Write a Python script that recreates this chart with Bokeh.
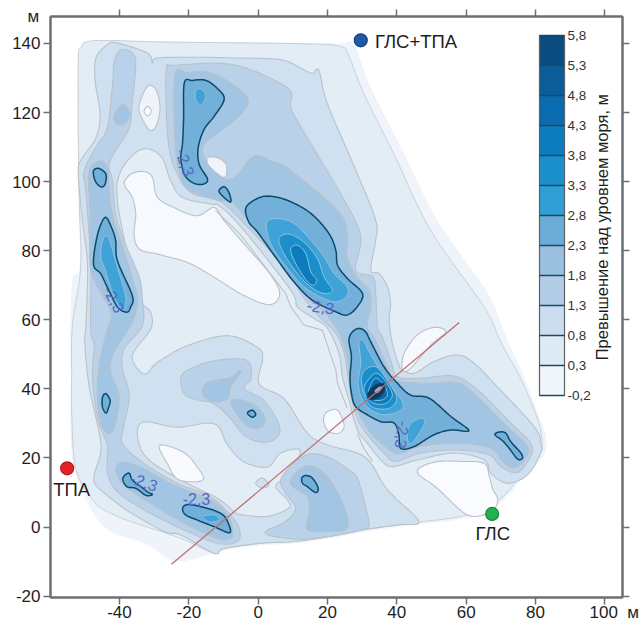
from bokeh.plotting import figure
from bokeh.models import (Range1d, LinearAxis, FixedTicker, ColorBar, LinearColorMapper, Label)
from bokeh.embed import file_html
from bokeh.resources import INLINE
import numpy as np

# ---------- axes ----------
x_ticks = [-40, -20, 0, 20, 40, 60, 80, 100]
y_ticks = [-20, 0, 20, 40, 60, 80, 100, 120, 140]
unit = "м"

# ---------- colour scale ----------
levels = [-0.2, 0.3, 0.8, 1.3, 1.8, 2.3, 2.8, 3.3, 3.8, 4.3, 4.8, 5.3, 5.8]
level_labels = ["-0,2", "0,3", "0,8", "1,3", "1,8", "2,3", "2,8", "3,3", "3,8", "4,3", "4,8", "5,3", "5,8"]
palette = ["#F1F6FB", "#DEEAF5", "#CBDDEF", "#B4CDE7", "#9AC0DF", "#6CADD7",
           "#2F9FD3", "#1A8FCB", "#0C7CBF", "#0A6BAE", "#0A5C9B", "#0A4B80"]

# ---------- contour outlines (x m, y m) ----------
domain = [(-51.9,135.3),(-51.2,138.7),(-47.3,140.8),(-26.2,140.6),(13.3,140.1),(23.8,139.9),(27.6,139.7),(32.5,127.2),(41.2,110),(51.7,88.8),(66.2,67.7),(71.5,55),(76.5,44),(81,32),(83,26.5),(82.5,21),(76.5,14.5),(70,7),(62,3),(46.9,0.8),(40.2,0),(29.6,-1.6),(20,-3.4),(10.4,-4.8),(0.8,-5.3),(-9.8,-6.8),(-19.4,-9.5),(-25.2,-9.5),(-32.9,-4.7),(-42.5,-1.3),(-48.3,5.4),(-53.6,19.8),(-54,43),(-54.2,58),(-53.5,72),(-51.5,75),(-51.8,94),(-52,114)]
band_03 = [(-51.9,135.3),(-51.2,138.7),(-47.3,140.8),(-26.2,140.4),(13.3,139.9),(23.8,139.1),(26.2,136.3),(30.6,125.2),(39.2,107.9),(49.8,85.8),(65.2,63.7),(70,53.5),(75.8,42.9),(80.6,31.3),(81.7,26.5),(81.5,21.3),(75.8,15),(70,8.3),(60.4,3.5),(46.9,1.5),(40.2,0.6),(29.6,-0.9),(20,-2.8),(10.4,-4.2),(0.8,-4.7),(-9.8,-6.2),(-12.7,-7.6),(-22.3,-3.3),(-33.8,0.6),(-41.5,3.5),(-47.3,7.3),(-52.6,16.9),(-53.8,33.3),(-53.8,43.4),(-53.6,58.3),(-51.2,75.2),(-51.6,94.4),(-51.9,113.7)]
low_big = [(-38.5,100.2),(-36.3,102.4),(-32.9,102.9),(-30.5,101.2),(-29,95.4),(-23.3,92),(-17.5,90.1),(-12.7,92.5),(-9.8,88.7),(-4,81.9),(2.7,74.2),(6.1,68.5),(5.1,65.1),(1.7,64.6),(-5,67.5),(-12.7,72.3),(-20.4,76.6),(-29,79),(-34.3,80.5),(-35.8,84.8),(-35.3,90.6),(-36.3,95.4),(-38.2,98.3)]
band_08 = [(-30.5,134.3),(-29,135.8),(-16.5,136),(-6.9,135.8),(2.7,135.6),(8.5,134.8),(15.2,131.4),(17.5,132.2),(20,122.5),(28.6,102.3),(33.9,88.8),(33.9,83),(32.5,74.4),(34.9,73.4),(37.3,69.5),(38.2,64.7),(37.8,59.9),(38.7,53.2),(40.6,46.9),(41.6,45.5),(45,44.5),(50.7,47.9),(57.5,49.8),(62.3,47.4),(69,40.6),(79.6,29.1),(81.5,24.3),(81.5,21.4),(77.7,15.1),(71.9,12.7),(67.1,15.6),(65.2,19.4),(56.5,21.4),(45.9,19.4),(38.7,17.5),(35.4,19.4),(31.5,24.3),(28.6,28.1),(26.2,36.8),(24.3,43.5),(23.3,50.3),(20,57.5),(16.1,60.4),(11.3,63.8),(9.4,68.6),(-4.1,85.9),(-10.8,92.7),(-13.7,93.5),(-21.8,95.4),(-25.2,100.2),(-28.1,107.4),(-33.8,109.3),(-39.6,103.1),(-40.6,94.4),(-37.2,77.1),(-33.8,65.6),(-31,62.1),(-31,57.3),(-36.3,49.6),(-32.9,44.3),(-29,47.7),(-20.4,52.5),(-8.8,55.4),(-0.2,52),(1.3,48.7),(0.3,41.4),(7.5,37.1),(14.2,27.2),(20,23.8),(28.6,21.4),(32.5,18.5),(36.3,12.1),(39.7,8.3),(46.4,1.5),(40.2,0.6),(29.6,-0.9),(20,-2.8),(10.4,-4.2),(0.8,-4.7),(-9.8,-6.2),(-12.7,-7.6),(-22.3,-2.3),(-27.1,-1.3),(-37.2,4.4),(-42.5,8.3),(-46.8,12.1),(-47.3,15),(-45.4,21.7),(-45.9,27.5),(-48.8,41),(-50,53.5),(-49.7,58.3),(-49.2,75.2),(-50.2,84.8),(-51.3,94.4),(-51.9,103.6),(-50.7,106.9),(-46.8,112.7),(-45.6,119.4),(-47,129),(-46.8,135.8),(-43.5,139.6),(-40.6,140.1),(-31.9,137.2)]
hole_mid = [(-34.8,26.5),(-32.9,30.4),(-23.3,28.9),(-12.7,29.9),(-8.8,23.7),(-4,18.8),(2.7,17.4),(6.5,21.4),(11.8,22.5),(11.3,19.5),(7.9,14.6),(5.1,11.7),(8.4,7.9),(8.9,5.5),(2.7,3.1),(-5,3.6),(-6.9,4.4),(-11.7,8.3),(-21.3,13.1),(-31.9,19.8)]
low_mid = [(-28.6,23.2),(-26.2,23.5),(-21,21.3),(-17.6,17.4),(-15.7,14),(-18.6,13.1),(-23.4,14),(-26.2,18.4)]
diamond = [(-0.7,12.7),(1.2,14.2),(3.1,12.2),(1.2,11.3)]
low_center = [(19,32),(20,33.4),(22.4,34.1),(23.8,32.5),(24.8,29.1),(23.3,27.2),(20.4,27.6),(19,30.1)]
low_right = [(41.6,45.5),(42.1,50.3),(45.9,55.6),(50.7,57.8),(54.1,56.5),(49.8,52.7),(44,46)]
low_south = [(45.9,16),(50.8,18.8),(58.5,19),(65.2,18.4),(66.6,15),(67.6,11.2),(69.1,7.8),(67.1,4.4),(60.4,3.5),(51.7,11.2)]
low_top_a = [(-14.6,106.9),(-11.7,106.9),(-9.3,105),(-9.3,101.6),(-10.8,101.6),(-14.1,104.5)]
low_top_b = [(-34.3,122.3),(-31.9,127.6),(-29.5,126.6),(-28.3,121.3),(-29.5,116),(-31.4,115),(-33.8,119)]
low_top_c = [(-32.9,120.4),(-31.9,121.8),(-30.8,120.4),(-31.9,119)]
strand = [(-12.3,91.7),(-5,84.5),(7.9,67.6),(9.4,63.8),(13.2,58.5),(18.5,57),(22.4,45.5),(22.9,41.6),(25.7,34.4)]
strand_low = [(28.6,27),(30.5,22.8),(33,19)]

band_13_left = [(-41.5,134.8),(-39.6,138.2),(-36.3,137.2),(-35.3,133.8),(-36.3,123.3),(-37.2,115.6),(-40.6,109.8),(-43,105),(-42,100.2),(-41.1,90.6),(-38.7,82.9),(-34.3,72.3),(-33.4,65.6),(-33.4,58.3),(-38.7,51.5),(-39.1,45.8),(-37.2,38.1),(-38.7,29.4),(-39.1,24.1),(-32.9,18.4),(-23.3,12.6),(-14.6,9.2),(-8.8,4.4),(-5.5,-0.4),(-6,-4.2),(-11.7,-4.7),(-20.4,-1.3),(-31.9,4.4),(-40.6,10.2),(-43.5,16),(-43.5,23.7),(-46.3,31.3),(-47.8,43.8),(-47.3,52.5),(-48.3,57.3),(-48.3,76.2),(-49.7,97.3),(-50.2,103.1),(-46.3,110.8),(-43.5,115.6),(-42,128.1)]
band_13_main = [(9.4,121.6),(12.3,115.8),(24.8,94.7),(29.6,84),(28.1,74.4),(33,72.5),(33.9,67.6),(34.4,58),(35.8,55.1),(38.2,48.4),(40.2,43.5),(46.9,43.1),(56.5,43.7),(63.3,39.7),(72.9,30.1),(78.6,24.3),(78.6,20.4),(74.8,15.8),(70,17.5),(66.6,20.9),(57.5,22.3),(46.9,21.4),(39.7,19),(36.3,21.4),(30.5,28.1),(27.6,34.4),(26.2,41.6),(24.8,50.3),(22.4,56.1),(17.1,61.4),(12.3,67.6),(8.4,74.4),(-3.1,86.9),(-9.4,93.2),(-12.7,94.9),(-19.4,96.8),(-23.3,102.1),(-25.7,109.8),(-26.6,123.3),(-26.4,132.9),(-24.2,133.7),(-6.9,133.8),(8.5,127.1)]
band_13_center = [(-22.3,41.9),(-21.3,44.8),(-14.6,47.7),(-6.9,48.7),(-2.6,47.7),(-2.1,42.9),(-4,40),(1.7,36.6),(6.1,29.4),(5.1,25.6),(0.8,24.6),(-4,26.5),(-7.9,31.3),(-12.7,35.7),(-16.5,36.6),(-20.9,38.1)]
band_13_south = [(2,-1.7),(7.9,1.6),(10.8,5.5),(7.9,9.8),(6.5,13.7),(10.3,18.5),(15.2,21.2),(20.9,19.9),(26.7,16.1),(28.7,14),(30.6,7.3),(32,0.6),(29.6,-0.9),(20,-2.8),(10.4,-3.5)]

band_18_ridge = [(-41.1,16.9),(-38.7,18.8),(-32.9,16.9),(-24.2,12.1),(-13.7,7.8),(-8.8,3.5),(-7.4,-0.4),(-7.9,-3.3),(-11.7,-3.3),(-20.4,0.6),(-31,6.8),(-38.7,12.1)]
band_18_left = [(-48.8,102.6),(-45.9,106),(-43.3,104),(-43,98.3),(-42,90.6),(-39.6,82.9),(-36.3,72.3),(-34.8,65.6),(-36.3,59.2),(-41.5,50.6),(-42.5,44.8),(-40.1,38.1),(-41.1,29.9),(-43,27),(-45.4,29.9),(-46.3,36.2),(-46.3,42.9),(-45.2,50.6),(-43.5,57.3),(-42.5,62.2),(-46.8,70.4),(-48.5,76.2),(-48.5,90.6)]
band_18_spot = [(-41.5,119.4),(-39.1,122.3),(-36.9,119.4),(-38.7,116.7),(-41.1,117)]
band_18_main = [(9.4,103.3),(22.9,91.7),(25.7,85),(25.7,78.2),(28.6,72.4),(32,68.6),(32.5,63.8),(31.5,58),(33.9,54.1),(37.3,46.4),(39.7,42.6),(48.8,41.6),(57.5,41.8),(63.3,37.7),(71.9,29.1),(77.7,23.3),(77.2,19.9),(73.8,17.1),(70.5,19),(67.1,22.8),(57.5,24.3),(46.9,23.3),(41.1,21.4),(38.7,21.8),(32.5,27.2),(28.6,33.9),(26.7,41.6),(25.3,50.3),(22.9,57),(18.5,62.8),(14.2,66.6),(9.4,75.3),(-2.2,87.9),(-7.9,94.6),(-10.8,94.4),(-19.4,97.3),(-22.3,101.2),(-24,110.8),(-24,131),(-20.4,131.6),(-14.6,131.7),(-7.9,128.6),(-2.9,123.8),(-5,119.4),(-10.8,114.6),(-15.6,110.8),(-15.4,106.9),(-10.8,101.6),(-6.9,101.2),(-1.2,107.4),(3.7,106),(6.5,105)]
band_18_center_a = [(-16,40),(-14.1,42),(-7.9,43.4),(-5.5,45.3),(-5,44.8),(-7.9,40.5),(-8.8,37.1),(-12.7,36.2),(-15.6,37.7)]
band_18_center_b = [(-7.9,36.2),(-5,36.9),(-0.2,34.7),(2,31.3),(0.8,28.9),(-2.6,28.9),(-5.9,32.3)]
band_18_south = [(9.4,13.7),(11.8,16.6),(15.2,17.7),(20,14.6),(24.8,6),(25.7,-0.3),(20,-1.3),(14.2,-0.8),(14.7,4),(14.2,8.8),(9.9,11.7)]

peak_top = [(-21.3,128.6),(-18.9,129.3),(-15.1,129.3),(-11.7,126.9),(-9.8,123.8),(-12.7,118.9),(-15.6,115.1),(-17.3,109.8),(-17,105),(-14.6,100.7),(-16.1,99.2),(-18.9,99.7),(-21.3,102.1),(-22.3,106.9),(-21.8,111.3),(-21.5,118.5)]
peak_a = [(-47.5,103.1),(-45.9,103.8),(-43.9,102.1),(-44.2,99.2),(-45.4,98.5),(-47,100.2)]
peak_left = [(-44.2,89.6),(-42.5,87.2),(-41.1,82.9),(-40.6,77.1),(-36.3,67),(-36.8,63.7),(-37.9,62.2),(-40.6,63.7),(-43.5,69.4),(-45.4,73.3),(-47.5,76.2),(-46.3,84.8)]
peak_b = [(-43.9,38.6),(-42.7,36.6),(-43.3,34.2),(-43.9,33),(-44.9,34.7),(-44.9,37.6)]
peak_c = [(-11.3,97.3),(-9.8,98.5),(-8.4,96.8),(-7.9,94.1),(-9.8,95.4)]
peak_diag = [(-3.6,92.2),(-1.2,94.6),(2.6,95.8),(8.4,94.6),(15.2,90.8),(20.4,85),(22.4,80.1),(22.9,75.8),(25.7,72),(30.1,67.6),(28.6,63.8),(25.7,61.4),(22.4,62.3),(15.6,65.7),(10.3,71),(4.6,78.7),(-0.2,85.4),(-2.7,88.3)]
peak_center = [(26.2,54.1),(27.2,56.5),(29.1,57.5),(31,56.5),(32.5,53.6),(36.3,46.4),(40.2,41.6),(44,38.2),(49.3,37.3),(55.6,32),(60.8,27.9),(55.6,28.1),(50.7,26.7),(45,23.3),(41.1,22.8),(40.6,26.7),(39.2,30.1),(35.4,30.5),(31.5,32.5),(28.1,34.9),(26.9,38.7),(26.5,43.5),(26.9,49.3)]
peak_right = [(68.3,26.7),(69.5,27.5),(71.4,27.2),(72.9,24.7),(75.8,21.4),(76.2,19.9),(74.8,19.7),(72.4,22.8),(70.5,25)]
peak_ridge_a = [(-38.8,14.6),(-37.2,15.6),(-36.3,13.6),(-33.8,11.7),(-31.9,10.2),(-30.5,9.4),(-32.4,9.2),(-35.3,11.2),(-37.7,11.6),(-38.9,13.2)]
peak_ridge_b = [(-21.8,5.4),(-20.4,6.5),(-16.5,5.9),(-11.7,4.4),(-9.3,2.5),(-8.1,-1.6),(-12.7,0.1),(-17.5,2),(-20.9,3.5)]
peak_mid = [(-2.9,33.3),(-1.6,33.8),(-0.7,32.6),(-1.6,31.8),(-2.9,32.6)]
peak_south = [(12.6,14.2),(13.7,14.9),(15.6,14.2),(17.3,11.3),(16.6,10),(14.2,11.7),(12.8,12.7)]

core_28_top = [(-18,126.2),(-16.5,126.9),(-15.1,124.7),(-16.5,122.3),(-18,123.8)]
core_28_left = [(-44.9,82.9),(-43.5,84.3),(-42.5,81.9),(-40.6,75.2),(-38.2,66.5),(-39.1,63.2),(-41.5,66.5),(-44.4,75.2),(-45.4,78.1)]
core_28_ridge = [(-16,3),(-12.7,3.5),(-11.2,2),(-14.1,1.5)]
core_28_diag = [(2.4,87.9),(5.5,89.3),(10.3,87.9),(15.2,83),(19,78.2),(21.9,73.4),(25.7,69.5),(25.3,66.6),(21.9,65.2),(16.1,67.6),(12.3,70.5),(7.4,76.3),(3.6,82.1)]
core_33_diag = [(6,83.5),(8.9,84.8),(13.2,82.5),(17.1,77.7),(19,72.4),(21.4,68.6),(19,67.6),(15.2,69.5),(11.3,73.4),(7.4,79.2)]
core_38_diag = [(9.4,80.6),(11.3,81.6),(13.7,79.2),(15.2,73.9),(16.9,71.5),(15.6,70),(13.2,72.4),(10.3,77.3)]
core_28_center = [(29.1,53.2),(30.4,53.9),(32,50.8),(36.3,43.5),(39.7,39.2),(41.9,35.3),(40.3,33.4),(36.3,32.5),(32.5,33.9),(30.1,36.8),(28.8,41.6),(29.6,47.4)]
core_28_spot = [(44,30),(47,31.5),(48,30),(45,25),(43.5,24.5),(43,27)]
core_33_center = [(30.1,44.5),(33.9,46.4),(37.8,41.6),(40,37.3),(37.8,34.4),(33,34.7),(30.4,38.7)]
core_38_center = [(30.8,41.1),(33.9,44.5),(36.8,42.1),(38.7,38.2),(36.8,35.8),(33.4,35.8),(31,38.2)]
core_43_center = [(32,40.2),(33.9,43.1),(36.3,41.1),(37.3,38.2),(35.8,36.8),(33.4,36.8),(32,38.2)]
core_48_center = [(31.7,38.7),(33.9,41.1),(36.3,41.4),(36.3,39.2),(34.4,37.3),(32,37)]
core_top_center = [(33.7,39.5),(35.2,40.6),(35.7,40.2),(34.4,38.9)]

section_x = [-25.0, 58.0]
section_y = [-10.8, 59.2]

wells_x = [-55.1, 29.6, 67.5]
wells_y = [17.0, 140.9, 3.8]
wells_fill = ["#E42326", "#1D5BA8", "#22B14C"]
wells_line = ["#B51A1E", "#16407C", "#1B8A3C"]
well_names = ["ТПА", "ГЛС+ТПА", "ГЛС"]

contour_labels = [("-2,3", -21, 105.5, -72), ("-2,3", -41.5, 65.9, -62), ("-2,3", 18, 63.8, -8),
                  ("-2,3", 41.6, 26.7, -98), ("-2,3", -32.9, 13.1, -20), ("-2,3", -17.8, 8, 0)]


def smooth(pts, n=10):
    a = np.array(pts, float)
    m = len(a)
    xs, ys = [], []
    for i in range(m):
        p0, p1, p2, p3 = a[(i - 1) % m], a[i], a[(i + 1) % m], a[(i + 2) % m]
        for t in np.linspace(0, 1, n, endpoint=False):
            q = 0.5 * (2 * p1 + (p2 - p0) * t + (2 * p0 - 5 * p1 + 4 * p2 - p3) * t ** 2
                       + (3 * p1 - p0 - 3 * p2 + p3) * t ** 3)
            xs.append(float(q[0]))
            ys.append(float(q[1]))
    return xs, ys


p = figure(width=641, height=624, output_backend="svg", toolbar_location=None,
           x_range=Range1d(-59.9, 105.1), y_range=Range1d(-20.4, 147.8),
           min_border_left=50, min_border_right=19, min_border_top=16, min_border_bottom=26,
           x_axis_location=None, y_axis_location=None, outline_line_color="#6B7075",
           outline_line_width=2, background_fill_color="white", border_fill_color="white")
p.grid.visible = False

FRAME = "#6B7075"
INK = "#1E1E1E"
NB = "\u00a0"
for side, ticks, is_x, show in [("below", x_ticks, True, True), ("above", x_ticks, True, False),
                                ("left", y_ticks, False, True), ("right", y_ticks, False, False)]:
    ax = LinearAxis(ticker=FixedTicker(ticks=ticks))
    ax.axis_line_color = FRAME
    ax.axis_line_width = 2
    ax.major_tick_line_color = FRAME
    ax.major_tick_line_width = 1.5
    ax.major_tick_out = 7
    ax.major_tick_in = 0
    ax.minor_tick_line_color = None
    if show:
        ax.major_label_text_font = "Liberation Sans"
        ax.major_label_text_font_size = "17px"
        ax.major_label_text_color = INK
        ax.major_label_standoff = 3
        ax.major_label_overrides = {t: str(t) for t in ticks}
    else:
        ax.major_label_text_font_size = "0px"
        ax.major_label_text_color = None
        ax.major_label_standoff = 0
    if side == "below":
        ax.major_label_overrides = {**ax.major_label_overrides, 100: NB * 4 + "100" + NB * 2 + unit}
        ax.major_label_standoff = -2
    if side == "left":
        ax.axis_label = unit
        ax.axis_label_orientation = "horizontal"
        ax.axis_label_align = "end"
        ax.axis_label_standoff = -30
        ax.axis_label_text_font = "Liberation Sans"
        ax.axis_label_text_font_size = "17px"
        ax.axis_label_text_font_style = "normal"
        ax.axis_label_text_baseline = "top"
        ax.axis_label_text_color = INK
    p.add_layout(ax, side)

GRAY = "#BBC1C8"
PALE = "#8FC4E3"
DARK = "#0B4A68"
TONE_13 = "#BAD2E9"
TONE_18 = "#A1C5E2"
TONE_23 = "#72B0D9"


def fill(pts, color, line=GRAY, width=1.1):
    xs, ys = smooth(pts)
    p.patch(xs, ys, fill_color=color, line_color=line, line_width=width)


fill(domain, "#EEF4FA", None)
fill(band_03, "#E2EDF6", "#C9CFD6", 1.0)
fill(low_big, "#F6F9FD")
fill(low_south, "#F9FBFE")
fill(band_08, "#CFE0F0")
fill(hole_mid, "#E2EDF6")
fill(low_mid, "#F8FAFD")
fill(diamond, "#D0E0F0")
fill(low_center, "#F6F9FD")
fill(low_right, "#F6F9FD")
fill(low_top_b, "#EEF4FA")
fill(low_top_c, "#FCFDFE")
for seg in (strand, strand_low):
    p.line([q[0] for q in seg], [q[1] for q in seg], line_color=GRAY, line_width=1.1)

for poly in (band_13_left, band_13_main, band_13_center, band_13_south):
    fill(poly, TONE_13)
for poly in (band_18_ridge, band_18_left, band_18_spot, band_18_main, band_18_center_a,
             band_18_center_b, band_18_south):
    fill(poly, TONE_18)
fill(low_top_a, "#F0F5FB")
for poly in (peak_top, peak_a, peak_left, peak_b, peak_c, peak_diag, peak_center, peak_right,
             peak_ridge_a, peak_ridge_b, peak_mid, peak_south):
    fill(poly, TONE_23, DARK, 1.5)
for poly in (core_28_top, core_28_left, core_28_ridge, core_28_diag, core_28_center, core_28_spot):
    fill(poly, "#3FA3D8", PALE, 1.0)
for poly in (core_33_diag, core_33_center):
    fill(poly, palette[7], PALE, 1.0)
for poly in (core_38_diag, core_38_center):
    fill(poly, palette[8], PALE, 1.0)
fill(core_43_center, palette[9], PALE, 1.0)
fill(core_48_center, "#0A3A62", DARK, 1.2)
fill(core_top_center, "#9CC0DC", "#D9A5A5", 0.8)

p.line(section_x, section_y, line_color="#C0706F", line_width=1.3)

p.scatter(wells_x, wells_y, size=13, fill_color=wells_fill, line_color=wells_line, line_width=1.2)

for txt, lx, ly, ang in contour_labels:
    p.add_layout(Label(x=lx, y=ly, text=txt, angle=ang, angle_units="deg", text_align="center",
                       text_baseline="middle", text_font="Liberation Sans", text_font_size="16px",
                       text_color="#5568C6"))

for txt, lx, ly, al in [("ТПА", -53.8, 11, "center"), ("ГЛС+ТПА", 33.7, 140.6, "left"), ("ГЛС", 67.7, -1.8, "center")]:
    p.add_layout(Label(x=lx, y=ly, text=txt, text_align=al, text_baseline="middle",
                       text_font="Liberation Sans", text_font_size="18.5px", text_color=INK))

p.add_layout(Label(x=99.3, y=86.8, text="Превышение над уровнем моря, м", angle=90, angle_units="deg",
                   text_align="center", text_baseline="middle", text_font="Liberation Sans",
                   text_font_size="16.5px", text_color=INK))

mapper = LinearColorMapper(palette=palette, low=levels[0], high=levels[-1])
bar = ColorBar(color_mapper=mapper, ticker=FixedTicker(ticks=levels),
               major_label_overrides={v: s for v, s in zip(levels, level_labels)},
               location=(489, 202), width=25, height=360, padding=0,
               background_fill_alpha=0, border_line_color=None,
               bar_line_color="#5A6168", bar_line_width=1.2,
               major_tick_line_color="#1E4860", major_tick_line_width=1.5,
               major_tick_in=25, major_tick_out=0, minor_tick_line_color=None,
               major_label_text_font="Liberation Sans", major_label_text_font_size="13.5px",
               major_label_text_color="#333333", label_standoff=3)
p.add_layout(bar)

open("out.html", "w").write(file_html(p, INLINE))
